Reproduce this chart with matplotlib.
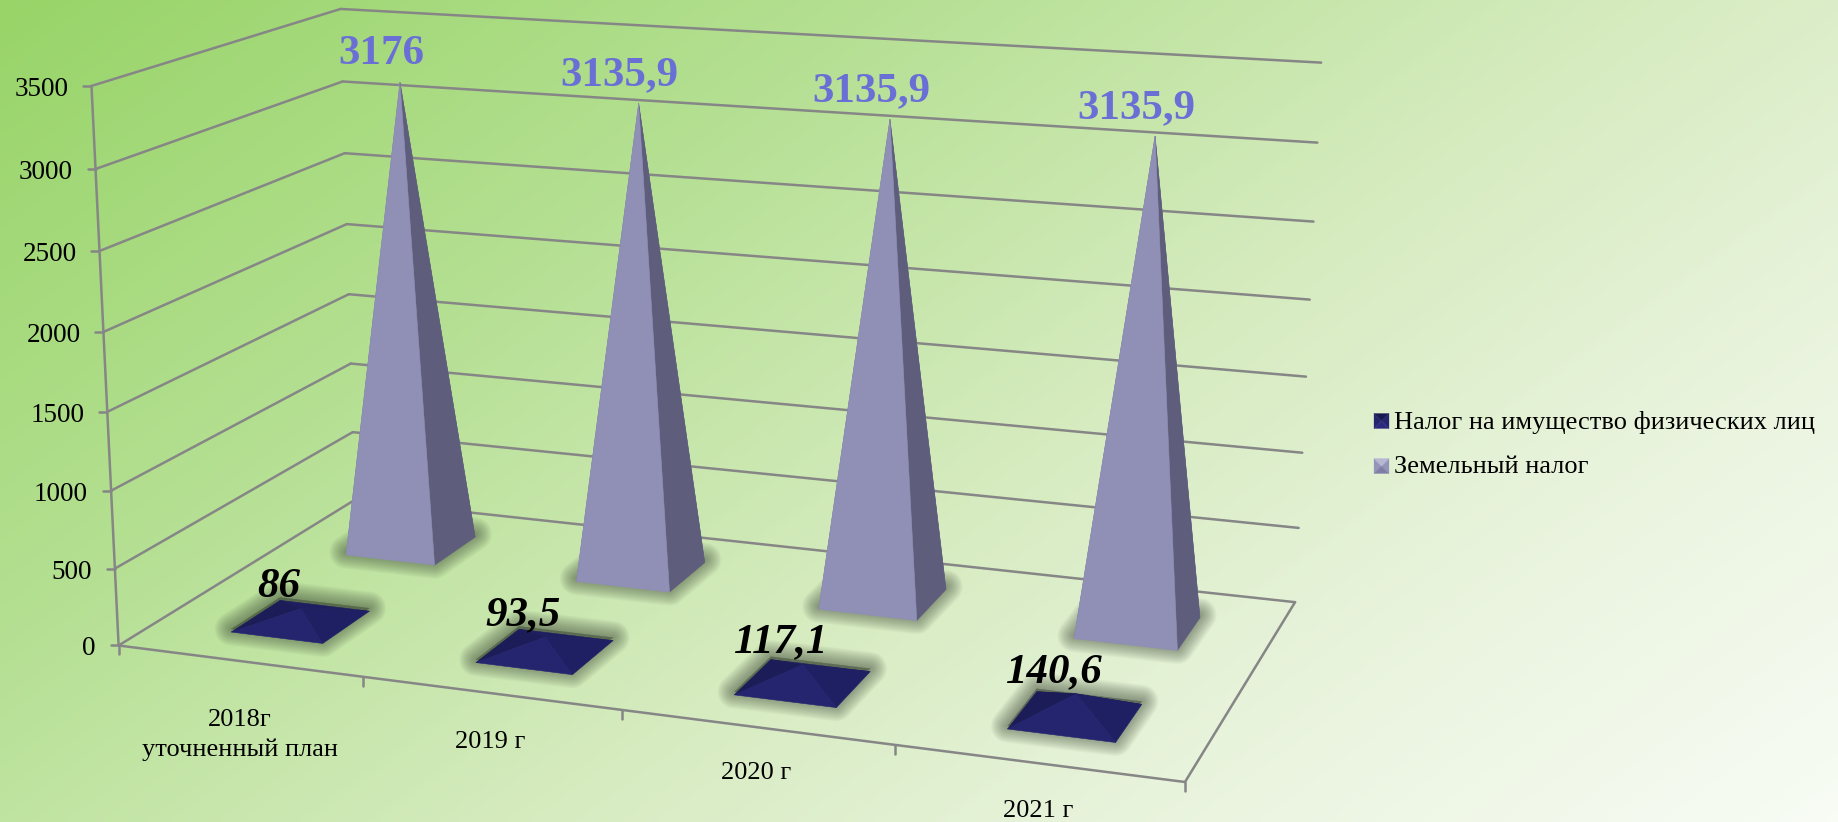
import numpy as np
import matplotlib
matplotlib.use("Agg")
import matplotlib.pyplot as plt
from matplotlib.colors import LinearSegmentedColormap
from matplotlib.patches import Polygon

plt.rcParams['font.family'] = ['Liberation Serif', 'DejaVu Serif']

# Data
categories = ["2018г\nуточненный план", "2019 г", "2020 г", "2021 г"]
imushch = [86, 93.5, 117.1, 140.6]
zemel = [3176, 3135.9, 3135.9, 3135.9]
series_names = ["Налог на имущество физических лиц", "Земельный налог"]
y_ticks = [0, 500, 1000, 1500, 2000, 2500, 3000, 3500]

W, H = 1838, 822
fig = plt.figure(figsize=(W / 100, H / 100), dpi=100)
ax = fig.add_axes([0, 0, 1, 1])
ax.set_xlim(0, W)
ax.set_ylim(H, 0)
ax.axis("off")

# background
xx, yy = np.meshgrid(np.linspace(0, 1, 460), np.linspace(0, 1, 206))
bg = LinearSegmentedColormap.from_list(
    "bg", [(0, "#98d468"), (0.3, "#b5e093"), (0.55, "#d5ebbe"), (0.75, "#e8f3db"), (1, "#f8fcf5")])
ax.imshow(0.62 * xx + 0.38 * yy, cmap=bg, vmin=0, vmax=1, extent=[0, W, H, 0], aspect="auto", zorder=0)

# camera for the fake 3d box: (category, depth, value) -> screen
calib_3d = np.array([[0, 0, 0], [0, 1, 0], [4, 1, 0], [4, 0, 0], [0, 0, 3500], [0, 1, 3500], [4, 1, 3500],
                     [0, 0, 3000], [0, 0, 2500], [0, 0, 500], [0, 1, 2000], [4, 1, 3000], [4, 1, 2500]], float)
calib_px = np.array([[118, 646], [355, 500], [1295, 602], [1185, 782], [92, 86], [340, 9], [1321, 62],
                     [95, 169], [100, 251], [115, 568], [347, 224], [1318, 143], [1313, 222]], float)


def fit_camera(p3, p2):
    rows = []
    for (a, b, c), (u, v) in zip(p3, p2):
        c = c / 1000
        u, v = u / 1000, v / 1000
        rows.append([a, b, c, 1, 0, 0, 0, 0, -u * a, -u * b, -u * c, -u])
        rows.append([0, 0, 0, 0, a, b, c, 1, -v * a, -v * b, -v * c, -v])
    return np.linalg.svd(np.array(rows))[2][-1].reshape(3, 4)


cam = fit_camera(calib_3d, calib_px)


def proj(a, b, c):
    q = cam @ np.array([a, b, c / 1000, 1.0])
    return np.array([q[0] / q[2] * 1000, q[1] / q[2] * 1000])


GRID = "#868686"
LW = 1.8


def line(p, q, z=2):
    ax.plot([p[0], q[0]], [p[1], q[1]], color=GRID, lw=LW, zorder=z, solid_capstyle="round")


# walls and floor
for v in y_ticks:
    line(proj(0, 0, v), proj(0, 1, v))
    line(proj(0, 1, v), proj(4, 1, v))
    p = proj(0, 0, v)
    line(p, p + [-8, 0])
    ax.text(p[0] - 23, p[1] + 3.5, str(v), ha="right", va="center", fontsize=19.5, color="black", zorder=6)
line(proj(0, 0, 0), proj(0, 0, 3500))
line(proj(0, 0, 0), proj(4, 0, 0))
line(proj(4, 0, 0), proj(4, 1, 0))
for i in range(5):
    p = proj(i, 0, 0)
    line(p, p + [0, 9])

label_off = [(1, 74), (0, 48.5), (0, 46), (0, 48)]
for i, c in enumerate(categories):
    p = proj(i + 0.5, 0, 0)
    ax.text(p[0] + label_off[i][0], p[1] + label_off[i][1], c, ha="center", va="center",
            fontsize=19, linespacing=1.45, zorder=6)


def pyramid(i, d, value, face_cols, half_w=0.2, half_d=0.1, dx=0.0):
    cx = i + 0.5 + dx
    fl = proj(cx - half_w, d - half_d, 0)
    fr = proj(cx + half_w, d - half_d, 0)
    br = proj(cx + half_w, d + half_d, 0)
    bl = proj(cx - half_w, d + half_d, 0)
    top = proj(cx, d, value)

    # soft shadow from stacked strokes
    base = np.array([fl, fr, br, bl]) + [0, -3]
    for lw in np.arange(24, 1, -1.5):
        ax.add_patch(Polygon(base, closed=True, fc="#3a4535", ec="#3a4535", lw=lw, alpha=0.04,
                             joinstyle="round", zorder=3))
    for corners, col in zip([(bl, br), (bl, fl), (fr, br), (fl, fr)], face_cols):
        ax.add_patch(Polygon([corners[0], corners[1], top], closed=True, fc=col, ec=col, lw=0.4, zorder=4))
    return top


purple = ["#6f6e96", "#7a79a0", "#5e5d7b", "#908fb6"]
navy = ["#1e1e60", "#1c1c58", "#1f1f63", "#24246f"]

for i, v in enumerate(zemel):
    t = pyramid(i, 0.745, v, purple, half_w=0.195, dx=0.0)
    ax.text(t[0] - 19, t[1] - 28, f"{v:g}".replace(".", ","), ha="center", va="center", fontsize=31,
            fontweight="bold", color="#6a6fd6", zorder=7)
for i, v in enumerate(imushch):
    t = pyramid(i, 0.24, v, navy, half_w=0.19, dx=0.01)
    ax.text(t[0] - 22, t[1] - 22, f"{v:g}".replace(".", ","), ha="center", va="center", fontsize=31,
            fontweight="bold", style="italic", color="black", zorder=7)

# legend
legend_cols = [("#191952", "#2a2a80", "#24246f"), ("#b8b7d3", "#7f7ea6", "#9594bb")]
for name, yc, (top_c, bot_c, side_c) in zip(series_names, [421, 466], legend_cols):
    x0, x1, y0, y1 = 1374, 1389, yc - 7.5, yc + 7.5
    mid = ((x0 + x1) / 2, yc)
    ax.add_patch(Polygon([(x0, y0), (x0, y1), mid], fc=side_c, ec=side_c, lw=0.2, zorder=5))
    ax.add_patch(Polygon([(x1, y0), (x1, y1), mid], fc=side_c, ec=side_c, lw=0.2, zorder=5))
    ax.add_patch(Polygon([(x0, y0), (x1, y0), mid], fc=top_c, ec=top_c, lw=0.2, zorder=5))
    ax.add_patch(Polygon([(x0, y1), (x1, y1), mid], fc=bot_c, ec=bot_c, lw=0.2, zorder=5))
    ax.text(1394, yc + 1, name, ha="left", va="center", fontsize=19, zorder=6)

fig.savefig("out.png", dpi=100)
